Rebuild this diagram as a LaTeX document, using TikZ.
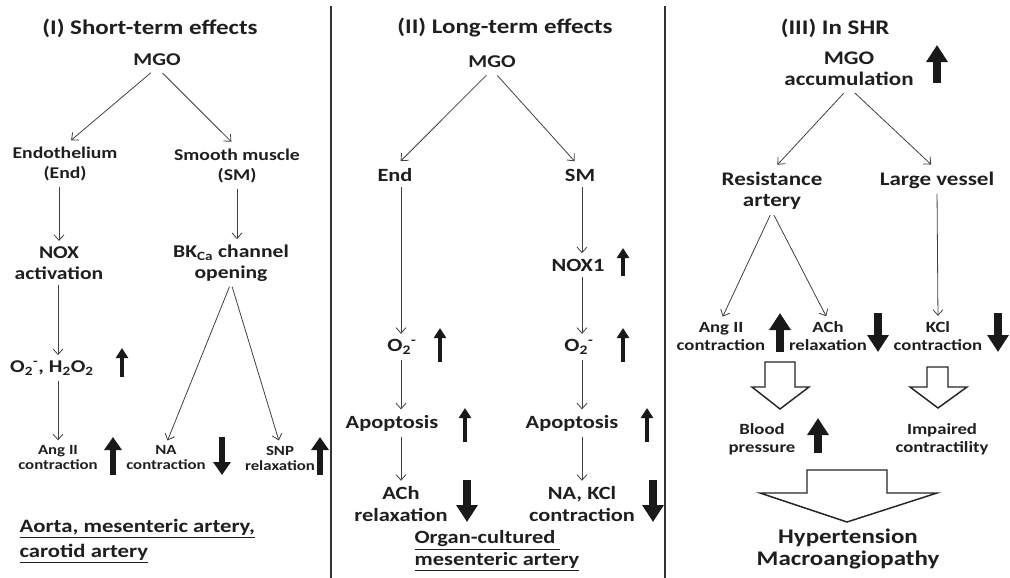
\documentclass[tikz,border=0pt]{standalone}
\usepackage{fontspec}
\setmainfont{Carlito}[FakeStretch=1.2]
\usetikzlibrary{arrows.meta, calc, positioning}

\begin{document}
\begin{tikzpicture}[x=0.75pt, y=-0.75pt,
  every node/.style={inner sep=1pt, text=black!88, align=center},
  ttl/.style={font=\bfseries\fontsize{15.6}{18}\selectfont},
  big/.style={font=\bfseries\fontsize{13.5}{15.75}\selectfont},
  med/.style={font=\bfseries\fontsize{12.3}{15}\selectfont},
  sml/.style={font=\bfseries\fontsize{10.5}{11.25}\selectfont},
  lng/.style={font=\bfseries\fontsize{14}{16.5}\selectfont},
  site/.style={font=\bfseries\fontsize{14.2}{18.75}\selectfont, anchor=west, align=left},
  shr/.style={font=\bfseries\fontsize{14.4}{15.75}\selectfont},
  shs/.style={font=\bfseries\fontsize{11.7}{13.5}\selectfont},
  res/.style={font=\bfseries\fontsize{15.6}{16.5}\selectfont},
  conn/.style={-{Straight Barb[length=4.2pt,width=7.5pt]}, draw=black!75, line width=0.6pt, shorten <=3pt, shorten >=3pt},
  upsm/.style={-{Triangle[length=7.5pt,width=9pt]}, line width=3.5pt, draw=black!90},
  upmd/.style={-{Triangle[length=9.75pt,width=12.75pt]}, line width=5pt, draw=black!90},
  uplg/.style={-{Triangle[length=12.75pt,width=15.5pt]}, line width=6pt, draw=black!90},
  hollow/.style={draw=black!85, line width=1.1pt, fill=white, line join=miter},
  divider/.style={draw=black!80, line width=1.1pt}]
\useasboundingbox (0,0) rectangle (1010,578);

\draw[divider] (331,6) -- (331,578);
\draw[divider] (665,6) -- (665,578);

\node[ttl] (t1) at (150,28) {(I) Short-term effects};
\node[big] (mgo1) at (157,60) {MGO};
\node[med] (endo) at (65,164) {Endothelium\\(End)};
\node[med] (smooth) at (237,166) {Smooth muscle\\(SM)};
\node[big] (nox) at (59,263) {NOX\\activation};
\node[big] (bk) at (231,263) {BK\textsubscript{Ca} channel\\opening};
\node[big] (ros) at (52,368) {O\textsubscript{2}\textsuperscript{-}, H\textsubscript{2}O\textsubscript{2}};
\node[sml] (ang1) at (58,458) {Ang II\\contraction};
\node[sml] (na1) at (166,458) {NA\\contraction};
\node[sml] (snp1) at (280,458) {SNP\\relaxation};
\node[site] (site1) at (18,541) {\underline{Aorta, mesenteric artery,}\\\underline{carotid artery}};

\draw[conn, shorten <=6pt, shorten >=6pt] (mgo1.south) -- (endo.north);
\draw[conn, shorten <=6pt, shorten >=6pt] (mgo1.south) -- (smooth.north);
\draw[conn] (endo.south -| nox) -- (nox.north);
\draw[conn] (smooth.south) -- (smooth.south |- bk.north);
\draw[conn] (nox.south -| ang1) -- (ros.north -| ang1);
\draw[conn] (ros.south -| ang1) -- (ang1.north);
\draw[conn] (bk.south) -- (na1.north);
\draw[conn] (bk.south) -- (snp1.north);

\draw[upsm] (122,377) -- (122,348);
\draw[upmd] (113,475) -- (113,437);
\draw[upmd] (222,437) -- (222,475);
\draw[upmd] (320,475) -- (320,437);

\node[ttl] (t2) at (505,28) {(II) Long-term effects};
\node[big] (mgo2) at (492,62) {MGO};
\node[lng] (end2) at (395,175) {End};
\node[lng] (sm2) at (580,175) {SM};
\node[lng] (nox1) at (578,265) {NOX1};
\node[lng] (o2a) at (402,347) {O\textsubscript{2}\textsuperscript{-}};
\node[lng] (o2b) at (579,347) {O\textsubscript{2}\textsuperscript{-}};
\node[lng] (apo1) at (392,423) {Apoptosis};
\node[lng] (apo2) at (572,423) {Apoptosis};
\node[lng] (ach2) at (401,504) {ACh\\relaxation};
\node[lng] (nakcl) at (582,504) {NA, KCl\\contraction};
\node[site, font=\bfseries\fontsize{14}{16.5}\selectfont] (site2) at (413,551) {\underline{Organ-cultured\ }\\\underline{mesenteric artery}};

\draw[conn, shorten <=6pt, shorten >=6pt] (mgo2.south) -- (end2.north);
\draw[conn, shorten <=6pt, shorten >=6pt] (mgo2.south) -- (sm2.north);
\draw[conn] (end2.south -| ach2) -- (o2a.north -| ach2);
\draw[conn] (sm2.south -| nakcl) -- (nox1.north -| nakcl);
\draw[conn] (nox1.south -| nakcl) -- (o2b.north -| nakcl);
\draw[conn] (o2a.south -| ach2) -- (apo1.north -| ach2);
\draw[conn] (o2b.south -| nakcl) -- (apo2.north -| nakcl);
\draw[conn] (apo1.south -| ach2) -- (ach2.north);
\draw[conn] (apo2.south -| nakcl) -- (nakcl.north);

\draw[upsm] (623,276) -- (623,248);
\draw[upsm] (440,362) -- (440,328);
\draw[upsm] (623,362) -- (623,328);
\draw[upsm] (465,442) -- (465,408);
\draw[upsm] (647,442) -- (647,408);
\draw[uplg] (467,480) -- (467,522);
\draw[uplg] (653,480) -- (653,522);

\node[ttl] (t3) at (835,28) {(III) In SHR};
\node[shr] (mgo3) at (849,69) {MGO\\accumulation};
\node[shr] (resist) at (772,191) {Resistance\\artery};
\node[shr] (large) at (937,180) {Large vessel};
\node[shs] (ang3) at (721,336) {Ang II\\contraction};
\node[shs] (ach3) at (828,336) {ACh\\relaxation};
\node[shs] (kcl3) at (938,336) {KCl\\contraction};
\node[shs] (blood) at (762,439) {Blood\\pressure};
\node[shs] (impair) at (942,439) {Impaired\\contractility};
\node[res] (hyper) at (848,549) {Hypertension\\Macroangiopathy};

\draw[conn, shorten <=6pt, shorten >=6pt] (mgo3.south) -- (resist.north);
\draw[conn, shorten <=6pt, shorten >=6pt] (mgo3.south) -- (large.north);
\draw[conn] (resist.south) -- (ang3.north);
\draw[conn] (resist.south) -- (ach3.north);
\draw[conn] (large.south) -- (kcl3.north);

\draw[uplg] (937,83) -- (937,45);
\draw[uplg] (780,352) -- (780,313);
\draw[uplg] (878,313) -- (878,352);
\draw[uplg] (998,313) -- (998,352);
\draw[uplg] (818,453) -- (818,418);

\draw[hollow] (765,362) -- (795,362) -- (795,387) -- (809,387) -- (780,409) -- (752,387) -- (765,387) -- cycle;
\draw[hollow] (927,367) -- (948,367) -- (948,387) -- (967,387) -- (938,408) -- (910,387) -- (927,387) -- cycle;
\draw[hollow] (807,470) -- (887,470) -- (887,493) -- (937,493) -- (847,522) -- (760,493) -- (807,493) -- cycle;
\end{tikzpicture}
\end{document}
